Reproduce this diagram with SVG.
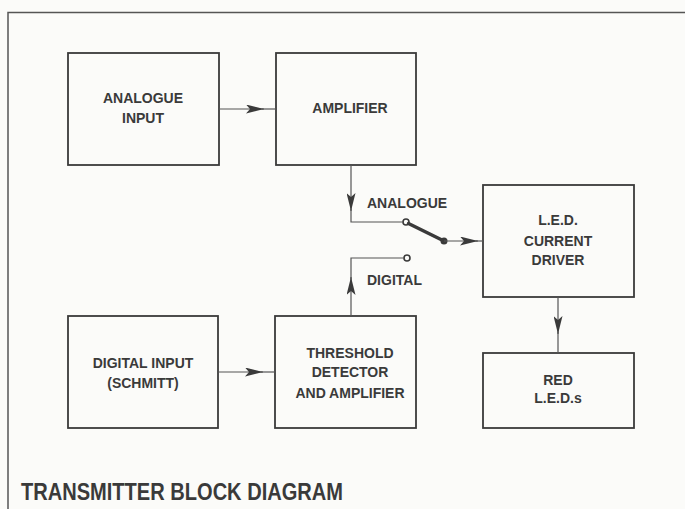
<svg xmlns="http://www.w3.org/2000/svg" width="685" height="509" viewBox="0 0 685 509">
<defs>
<style>
.box{fill:none;stroke:#3a3a3a;stroke-width:1.8}
.ln{fill:none;stroke:#555;stroke-width:1.2}
.t{font-family:"Liberation Sans",Arial,sans-serif;font-weight:bold;font-size:14px;fill:#3a3a3a;text-anchor:middle}
.lbl{font-family:"Liberation Sans",Arial,sans-serif;font-weight:bold;font-size:14px;fill:#3a3a3a}
</style>
<marker id="ah" viewBox="0 0 18 9" refX="18" refY="4.5" markerWidth="18" markerHeight="9" markerUnits="userSpaceOnUse" orient="auto">
<path d="M0,0 L18,4.5 L0,9 L4,4.5 Z" fill="#3a3a3a"/>
</marker>
</defs>
<rect width="685" height="509" fill="#fbfbf9"/>
<path d="M8,509 V12.5 H685" fill="none" stroke="#555" stroke-width="1.5"/>
<g id="analogue-input"><rect class="box" x="68" y="53" width="151" height="112"/><text class="t" x="143" y="103">ANALOGUE</text><text class="t" x="143" y="123">INPUT</text></g>
<g id="amplifier"><rect class="box" x="276" y="53" width="140" height="112"/><text class="t" x="350" y="113">AMPLIFIER</text></g>
<g id="digital-input"><rect class="box" x="68" y="316" width="150" height="112"/><text class="t" x="143" y="368">DIGITAL INPUT</text><text class="t" x="143" y="388">(SCHMITT)</text></g>
<g id="threshold"><rect class="box" x="275" y="316" width="141" height="112"/><text class="t" x="350" y="358">THRESHOLD</text><text class="t" x="350" y="377">DETECTOR</text><text class="t" x="350" y="398">AND AMPLIFIER</text></g>
<g id="led-driver"><rect class="box" x="483" y="185" width="151" height="112"/><text class="t" x="558" y="225">L.E.D.</text><text class="t" x="558" y="246">CURRENT</text><text class="t" x="558" y="265">DRIVER</text></g>
<g id="red-leds"><rect class="box" x="483" y="353" width="151" height="75"/><text class="t" x="558" y="385">RED</text><text class="t" x="558" y="403">L.E.D.s</text></g>
<g id="switch">
<circle cx="406" cy="222" r="3" fill="#fbfbf9" stroke="#3a3a3a" stroke-width="1.6"/>
<circle cx="407" cy="258" r="3" fill="#fbfbf9" stroke="#3a3a3a" stroke-width="1.6"/>
<line x1="408.5" y1="223.5" x2="444" y2="241" stroke="#3a3a3a" stroke-width="3.5" stroke-linecap="round"/>
<circle cx="444" cy="241" r="3.5" fill="#3a3a3a"/>
<text class="lbl" x="367" y="208">ANALOGUE</text>
<text class="lbl" x="367" y="285">DIGITAL</text>
</g>
<g id="connectors">
<line class="ln" x1="219" y1="109" x2="264" y2="109" marker-end="url(#ah)"/>
<line class="ln" x1="262" y1="109" x2="276" y2="109"/>
<line class="ln" x1="218" y1="372" x2="263" y2="372" marker-end="url(#ah)"/>
<line class="ln" x1="261" y1="372" x2="275" y2="372"/>
<line class="ln" x1="351" y1="165" x2="351" y2="211" marker-end="url(#ah)"/>
<path class="ln" d="M351,209 V222 H403"/>
<line class="ln" x1="351" y1="316" x2="351" y2="277" marker-end="url(#ah)"/>
<path class="ln" d="M351,279 V258 H404"/>
<line class="ln" x1="444" y1="241" x2="478" y2="241" marker-end="url(#ah)"/>
<line class="ln" x1="476" y1="241" x2="483" y2="241"/>
<line class="ln" x1="558" y1="297" x2="558" y2="334" marker-end="url(#ah)"/>
<line class="ln" x1="558" y1="332" x2="558" y2="353"/>
</g>
<text x="21" y="500" font-family="'Liberation Sans',Arial,sans-serif" font-weight="bold" font-size="24" fill="#3a3a3a" textLength="322" lengthAdjust="spacingAndGlyphs">TRANSMITTER BLOCK DIAGRAM</text>
</svg>
